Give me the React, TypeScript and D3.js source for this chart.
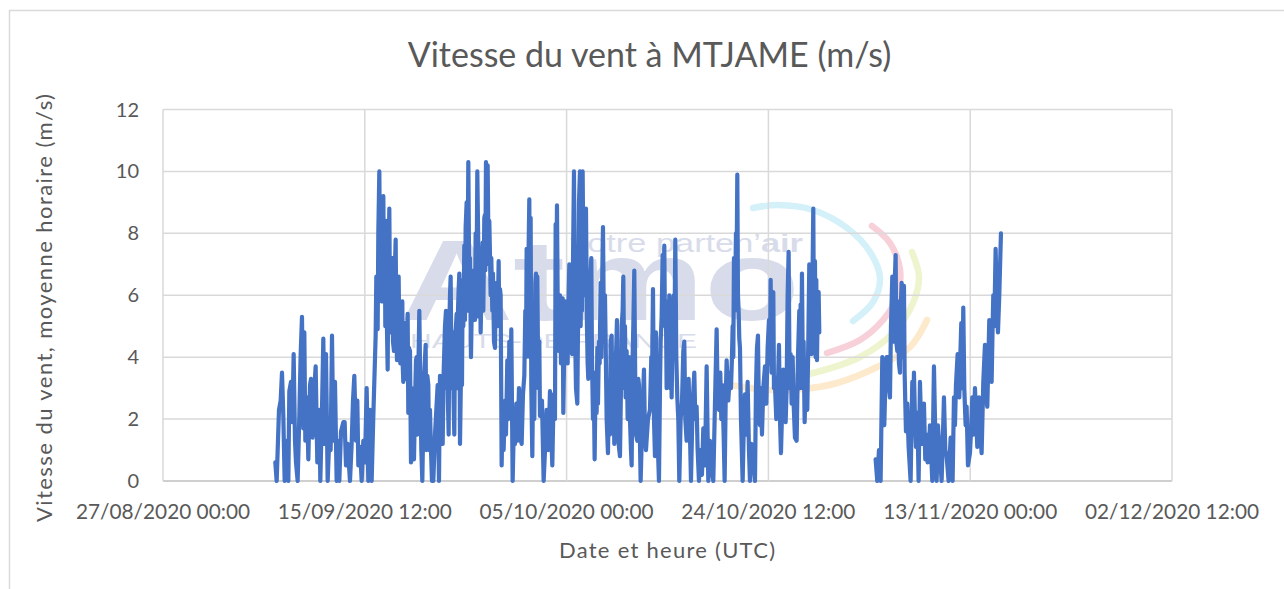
import React from "react";
import * as d3 from "d3";

const chartTitle = "Vitesse du vent à MTJAME (m/s)";
const xTitle = "Date et heure (UTC)";
const yTitle = "Vitesse du vent, moyenne horaire (m/s)";
const yTicks = [0, 2, 4, 6, 8, 10, 12];
const axisStart = new Date(Date.UTC(2020, 7, 27, 0, 0));
const tickStepDays = 19.5;
const tickCount = 6;
const sampleOriginMinutes = 13497;
const sampleStepMinutes = 46.38;

// [sample number, wind speed m/s]
const periodA: [number, number][] = [
[46,.6],[50,0],[57,2.3],[62,2.6],[66,3.5],[70,2.1],[74,0],[80,1.3],[85,0],[88,2.9],[93,3.2],[97,1.9],[101,4.1],[105,1.3],[108,.6],[113,0],[118,2.1],[122,4.1],[126,5.3],[130,1.7],[133,4.8],[136,1.3],[141,2.7],[145,.7],[150,3.1],[153,3.3],[158,1.4],[163,3],[167,3.7],[172,.6],[178,2.3],[181,0],[186,2.3],[190,4.6],[194,1.2],[198,4.1],[203,0],[208,1.4],[212,1],[216,4.7],[220,1.3],[225,3.2],[230,0],[234,1.3],[238,0],[243,1.6],[250,1.9],[254,1.9],[258,.5],[263,1.2],[270,0],[275,1.2],[279,2.6],[283,3.4],[288,1.3],[292,2.6],[295,.5],[300,1.1],[305,0],[310,1.3],[315,.6],[320,3],[325,0],[330,2.3],[335,0],[340,2.1],
[347,4.7],[349,6.6],[351,5],[353,4.9],[355,8],[358,10],[361,6],[363,8.5],[365,5.8],[367,8.8],[370,9.2],[372,6.5],[375,7.4],[376,5],[378,8.4],[380,5.5],[383,3.6],[385,6.5],[388,8.8],[390,5.5],[392,4.8],[394,7],[397,7.2],[399,4.5],[402,4.2],[404,6.5],[407,7.8],[409,5],[411,3.9],[413,6],[416,6.6],[418,4.5],[421,3.8],[424,5.5],[427,5.8],[428,3.8],[430,3.2],[433,5],[436,5.1],[439,3.3],[443,5.4],[445,2.2],[447,4.3],[450,4.2],[453,.6],[455,3],[457,2.7],[459,1],[462,.7],[465,2.5],[468,3.9],[470,4],[472,1.5],[475,3.5],[478,5.5],[481,3],[484,1],[487,0],[490,2],[493,3.5],[497,4.4],[499,1],[502,3.4],[505,3.1],[507,1],[510,2.3],[513,1],[516,0],[520,0],[525,1.5],[530,2.5],[533,3.1],[537,0],[540,3.4],[544,2],[548,1.2],[551,3.5],[555,5],[558,5.5],[560,3],[562,5.2],[564,2.5],[566,1.5],[568,5],[570,6],[572,6.6],[575,3],[578,4.8],[581,2.5],[583,1.5],[585,4.5],[588,5],[590,5.4],[592,3],[594,5.5],[596,6.2],[598,6.7],[600,1.2],[603,3.5],[606,3.1],[608,6.5],[610,5],[613,7.6],[615,5.2],[617,8.2],[620,9],[622,5.5],[625,10.3],[628,6],[630,7.2],[633,4],[636,6],[638,5.5],[640,6.8],[642,5.2],[645,5.2],[647,8],[649,5.4],[652,10],[655,7.5],[657,5.3],[660,7],[662,4.8],[665,6.5],[668,7.7],[670,5.5],[673,8.5],[675,8.6],[676,6.8],[678,10.3],[680,8],[683,10.2],[686,7],[688,8.4],[690,7.3],[692,6],[694,7.2],[697,5.5],[699,6.7],[702,4.5],[705,4.3],[707,6.3],[710,6.4],[713,5],[716,7.1],[718,5],[720,6.2],[722,6],[725,.5],[728,2.5],[731,1],[735,2.6],[738,1.5],[742,3.9],[745,2],[748,4.5],[751,2.5],[754,4.9],[758,0],[761,1.5],[765,1.2],[769,2.5],[773,1.3],[777,3],[781,1.4],[785,1.2],[789,2.8],[793,3.4],[796,5.5],[798,4],[800,7.5],[803,5],[805,6.8],[808,9.1],[810,4],[812,8.5],[814,3],[817,.8],[820,4],[823,2],[826,6.4],[828,6.7],[830,3.5],[832,6.6],[835,3],[838,4.5],[840,2.1],[846,2.6],[851,0],[856,1.2],[860,2.3],[865,1],[870,2.9],[874,1.5],[877,.5],[881,2.8],[885,2],
[887,8.3],[889,6],[891,8.9],[894,4.5],[897,4.2],[900,6],[903,3.8],[905,5.5],[908,5.9],[910,2.2],[913,4.5],[916,5.8],[918,4.2],[920,5.7],[923,3.8],[925,5.5],[928,7],[930,5],[933,6.5],[936,4.1],[939,7],[942,10],[945,5],[948,3],[952,2.5],[955,6],[957,9],[960,10],[962,5],[964,7],[966,5.5],[968,10],[971,6],[973,7],[975,6],[978,8.8],[981,5],[983,3.8],[985,3.3],[988,6],[991,6.5],[994,7.2],[996,4],[999,2],[1001,3.5],[1004,.7],[1007,3.5],[1010,2.2],[1012,4.3],[1014,2.5],[1017,4.5],[1019,3.8],[1022,6.4],[1024,4],[1026,6],[1029,8.2],[1032,4.5],[1035,6],[1037,4.5],[1040,2],[1044,.9],[1047,3],[1050,1.5],[1052,4.5],[1055,4.7],[1058,2],[1060,3.2],[1063,1.2],[1065,2.5],[1068,4],[1071,5.2],[1073,2],[1076,1.2],[1080,.8],[1083,3],[1085,5],[1088,5.5],[1090,6.6],[1093,3],[1095,5],[1097,2.7],[1100,4.2],[1103,2],[1105,4],[1107,4],[1110,2],[1113,1],[1115,.5],[1118,4],[1120,5],[1123,6.8],[1126,3],[1128,1.5],[1132,1.3],[1135,3.3],[1137,3.1],[1142,0],[1147,2],[1152,3.6],[1155,1.5],[1158,1],[1164,2],[1170,2.3],[1174,4],[1176,3],[1179,6.2],[1182,2],[1185,.8],[1188,4.8],[1191,2],[1194,1],[1197,0],[1200,3],[1202,4.5],[1205,5.3],[1208,7.3],[1210,5.5],[1213,7.6],[1215,5],[1218,5.4],[1220,3],[1223,5.8],[1226,4],[1228,6],[1231,3],[1233,5],[1235,2.7],[1238,5],[1241,6],[1243,4],[1246,7.8],[1249,4],[1252,2.7],[1255,2],[1258,0],[1262,2],[1266,2.5],[1270,4.2],[1273,4.5],[1276,2],[1280,1.3],[1283,3],[1286,3.3],[1290,1.5],[1293,0],[1298,2.5],[1303,3.5],[1306,2],[1310,2.4],[1313,1],[1317,0],[1322,1],[1326,.2],[1330,1.7],[1335,.5],[1340,3.7],[1345,0],[1350,1.3],[1355,.4],[1360,0],[1365,2.5],[1370,4.9],[1373,2.8],[1377,2.3],[1381,3.5],[1384,2],[1387,3.1],[1391,1.5],[1394,0],[1397,2.5],[1400,3.9],[1405,2.6],[1410,3.5],[1413,3],[1416,4],[1418,5],[1420,4],[1422,7.2],[1425,5.5],[1428,8],[1430,7],[1432,9.9],[1434,6],[1436,5.5],[1438,4.6],[1440,4.3],[1443,2],[1448,0],[1452,2],[1455,2.8],[1459,1.5],[1463,3.2],[1467,1],[1470,0],[1474,1.2],[1478,1.1],[1482,.4],[1485,0],[1488,3],[1491,4.3],[1494,4.7],[1497,2],[1500,1.8],[1503,3],[1506,1.5],[1510,3],[1515,3.7],[1519,2.5],[1523,4.3],[1527,5.2],[1530,3.8],[1532,6.5],[1535,3.5],[1537,6],[1540,6.1],[1542,3],[1545,3.1],[1549,2],[1552,2.3],[1557,4.4],[1560,2],[1563,.9],[1567,2.5],[1570,3.6],[1573,2],[1577,1.9],[1580,3],[1583,6],[1586,7.4],[1589,3],[1592,4.1],[1595,2.5],[1598,4],[1601,2.5],[1605,1.4],[1610,1.3],[1614,4],[1618,5.5],[1620,3],[1622,5.7],[1624,4],[1626,6.7],[1629,3],[1631,4.5],[1634,1.9],[1638,3.5],[1642,2.3],[1645,4.5],[1648,7],[1650,4.5],[1652,6.8],[1655,4.1],[1657,6],[1660,8.8],[1662,4.5],[1665,7.1],[1667,4],[1669,6.5],[1671,3.9],[1673,5.5],[1676,6.1],[1678,4.8],
];

const periodB: [number, number][] = [
[1847,.7],[1852,0],[1857,1],[1862,0],[1867,4],[1870,2.5],[1873,1.8],[1877,3.5],[1880,4],[1883,4],[1887,3],[1890,2.7],[1893,5],[1897,6.6],[1900,4.5],[1903,6],[1907,7.3],[1909,4.5],[1912,4.2],[1914,5.8],[1917,3.8],[1920,3.5],[1922,5.5],[1925,6.4],[1927,4],[1929,5.5],[1932,6.3],[1934,3.5],[1938,1.6],[1942,2.5],[1946,1.1],[1952,0],[1955,2],[1957,3.2],[1960,2],[1962,3.5],[1965,2],[1968,1.1],[1972,2.2],[1976,0],[1980,3.2],[1983,2],[1986,1.2],[1992,2.5],[1996,.7],[2000,1.5],[2003,.6],[2007,1],[2010,1.8],[2017,0],[2022,3.7],[2026,1.5],[2030,0],[2034,1.8],[2038,1.1],[2045,0],[2049,1.5],[2052,2.7],[2056,1],[2060,.8],[2066,0],[2072,1.4],[2078,0],[2082,2.7],[2085,1.8],[2088,3.1],[2093,4.1],[2098,2.7],[2101,4],[2104,5.1],[2107,3],[2110,5.6],[2113,3],[2117,1.8],[2120,2.4],[2124,.5],[2130,.9],[2134,1.8],[2137,2.7],[2141,1.5],[2145,3],[2152,1.1],[2157,2.7],[2161,1.5],[2165,.9],[2170,3.2],[2175,4.4],[2178,2.8],[2182,2.4],[2188,5.2],[2191,4],[2195,3.2],[2198,5],[2200,6],[2203,5],[2207,7.5],[2210,6],[2214,4.8],[2218,6],[2223,8],
];

// watermark logo arcs (decorative, page pixels)
const arcBlue: [number, number][] = [[753,208],[778,205],[813,210],[847,228],[870,252],[880,278],[873,302],[853,321]];
const arcPink: [number, number][] = [[872,226],[890,243],[900,270],[897,297],[883,320],[860,340],[827,353]];
const arcGreen: [number, number][] = [[912,252],[919,277],[913,303],[893,333],[860,357],[813,373],[790,377]];
const arcOrange: [number, number][] = [[927,320],[910,347],[877,367],[837,383],[803,389],[770,390],[730,385]];

const W = 1284, H = 589;
const L = 163, R = 1172, T = 109.5, B = 481;
const FONT = "Lato, 'Open Sans', sans-serif";
const INK = "#595959";
const GRID = "#d9d9d9";
const WM = "#d8dcea";

const axisEnd = d3.utcMinute.offset(axisStart, tickStepDays * (tickCount - 1) * 1440);
const xScale = d3.scaleUtc().domain([axisStart, axisEnd]).range([L, R]);
const yScale = d3.scaleLinear().domain([0, 12]).range([B, T]);
const fmt = d3.utcFormat("%d/%m/%Y %H:%M");
const xTicks = d3.range(tickCount).map((i) => d3.utcMinute.offset(axisStart, i * tickStepDays * 1440));

const sampleTime = (n: number) =>
  d3.utcMinute.offset(axisStart, sampleOriginMinutes + n * sampleStepMinutes);
const speedLine = d3
  .line<[number, number]>()
  .x((d) => xScale(sampleTime(d[0])))
  .y((d) => yScale(d[1]));
const arcLine = d3.line().curve(d3.curveCatmullRom);

export default function App() {
  return (
    <svg
      width={W}
      height={H}
      viewBox={`0 0 ${W} ${H}`}
      style={{ position: "absolute", left: 0, top: 0, background: "#fff", fontFamily: FONT }}
    >
      <path d={`M${W + 5} 10.5H9.5V${H + 5}`} fill="none" stroke={GRID} strokeWidth={1.5} />

      <g>
        <text x={400} y={320} fontSize={115} fontWeight={700} fill={WM} fontFamily="'Liberation Sans'" textLength={400} lengthAdjust="spacingAndGlyphs">Atmo</text>
        <text x={570} y={252} fontSize={25} fill={WM} fontFamily="'Liberation Sans'" textLength={233} lengthAdjust="spacingAndGlyphs">
          votre parten’<tspan fontWeight={700}>air</tspan>
        </text>
        <text x={410} y={348} fontSize={21} fill={WM} fontFamily="'Liberation Sans'" textLength={287} lengthAdjust="spacingAndGlyphs">HAUTS-DE-FRANCE</text>
        {([[arcOrange, "#fde9cc"], [arcGreen, "#eef4cd"], [arcPink, "#f8d0da"], [arcBlue, "#d4f0f9"]] as const).map(([pts, c], i) => (
          <path key={i} d={arcLine(pts as [number, number][]) || ""} fill="none" stroke={c} strokeWidth={6.5} strokeLinecap="round" />
        ))}
      </g>

      {yTicks.map((t) => (
        <line key={t} x1={L} x2={R} y1={yScale(t)} y2={yScale(t)} stroke={t === 0 ? "#bfbfbf" : GRID} strokeWidth={1.5} />
      ))}
      {xTicks.map((t, i) => (
        <line key={i} x1={xScale(t)} x2={xScale(t)} y1={T} y2={B} stroke={GRID} strokeWidth={1.5} />
      ))}

      {[periodA, periodB].map((p, i) => (
        <path key={i} d={speedLine(p) || ""} fill="none" stroke="#4472c4" strokeWidth={4.2} strokeLinejoin="round" strokeLinecap="round" />
      ))}

      {yTicks.map((t) => (
        <text key={t} x={139} y={yScale(t) + 7} textAnchor="end" fontSize={20} fill={INK}>{t}</text>
      ))}
      {xTicks.map((t, i) => (
        <text key={i} x={xScale(t)} y={519} textAnchor="middle" fontSize={20.8} fill={INK}>{fmt(t)}</text>
      ))}
      <text x={649.5} y={67} textAnchor="middle" fontSize={34} fill={INK}>{chartTitle}</text>
      <text x={667} y={558} textAnchor="middle" fontSize={22} fill={INK} textLength={216}>{xTitle}</text>
      <text transform="translate(52,308) rotate(-90)" textAnchor="middle" fontSize={22} fill={INK} textLength={428}>{yTitle}</text>
    </svg>
  );
}
